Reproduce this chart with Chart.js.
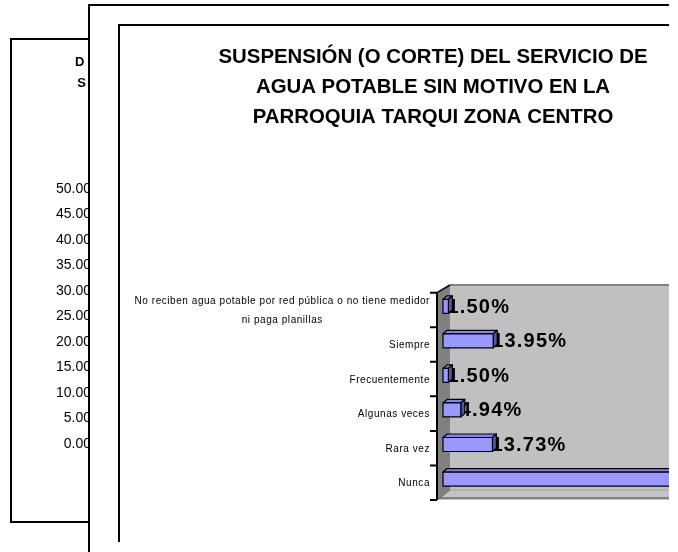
<!DOCTYPE html>
<html>
<head>
<meta charset="utf-8">
<script src="https://cdn.jsdelivr.net/npm/chart.js@4/dist/chart.umd.min.js"></script>
<style>
  html, body { margin: 0; padding: 0; background: #fff; }
  #wrap { position: relative; width: 669px; height: 552px; overflow: hidden; }
  .frame { position: absolute; background: #fff; box-sizing: content-box; }
  #back { left: 10px; top: 38px; width: 700px; height: 481px;
          border-left: 2px solid #000; border-top: 2px solid #000; border-bottom: 2px solid #000; }
  #mid { left: 88px; top: 4px; width: 800px; height: 600px;
         border-left: 2px solid #000; border-top: 2px solid #000; }
  #front { left: 118px; top: 24px; width: 800px; height: 516px;
           border-left: 2px solid #000; border-top: 2px solid #000; }
  #backChart { position: absolute; left: 0; top: 0; }
  #mainChart { position: absolute; left: 0; top: 0; }
</style>
</head>
<body>
<div id="wrap">
  <div class="frame" id="back"><canvas id="backChart" width="400" height="481"></canvas></div>
  <div class="frame" id="mid"></div>
  <div class="frame" id="front"></div>
  <canvas id="mainChart" width="803" height="552"></canvas>
</div>
<script>
// chart data
const categories = [
  ['No reciben agua potable por red pública o no tiene medidor', 'ni paga planillas'],
  'Siempre',
  'Frecuentemente',
  'Algunas veces',
  'Rara vez',
  'Nunca'
];
const percentages = [1.50, 13.95, 1.50, 4.94, 13.73, 64.38];
const titleLines = [
  'SUSPENSIÓN (O CORTE) DEL SERVICIO DE',
  'AGUA POTABLE SIN MOTIVO EN LA',
  'PARROQUIA TARQUI ZONA CENTRO'
];

// chart partly hidden behind the front one
const backTitleLines = ['D', ' S'];
const backAxisMin = 0;
const backAxisMax = 50;
const backAxisStep = 5;

const FONT = 'Arial, "Liberation Sans", sans-serif';

// 3D look: walls, floor, axis, category labels, boxed bars
const bar3d = {
  id: 'bar3d',
  beforeDatasetsDraw(chart) {
    const ctx = chart.ctx;
    const { left, right, top, bottom } = chart.chartArea;
    const yScale = chart.scales.y;
    const ax = left - 6;
    const bx = ax + 13;
    const wallTop = top - 7.7;
    const wallBottom = bottom - 10;

    ctx.save();
    // back wall
    ctx.fillStyle = '#c0c0c0';
    ctx.fillRect(bx, wallTop, right - bx, wallBottom - wallTop);
    ctx.strokeStyle = '#808080';
    ctx.lineWidth = 2;
    ctx.beginPath();
    ctx.moveTo(bx, wallTop);
    ctx.lineTo(right, wallTop);
    ctx.stroke();

    // floor
    ctx.fillStyle = '#c4c4c4';
    ctx.beginPath();
    ctx.moveTo(ax, bottom);
    ctx.lineTo(bx, wallBottom);
    ctx.lineTo(right, wallBottom);
    ctx.lineTo(right, bottom);
    ctx.closePath();
    ctx.fill();
    ctx.strokeStyle = '#a0a0a0';
    ctx.lineWidth = 1;
    ctx.beginPath();
    ctx.moveTo(bx, wallBottom);
    ctx.lineTo(right, wallBottom);
    ctx.stroke();
    ctx.strokeStyle = '#808080';
    ctx.lineWidth = 2;
    ctx.beginPath();
    ctx.moveTo(ax, bottom - 2);
    ctx.lineTo(right, bottom - 2);
    ctx.stroke();

    // side wall
    ctx.fillStyle = '#808080';
    ctx.beginPath();
    ctx.moveTo(ax, top);
    ctx.lineTo(bx, wallTop);
    ctx.lineTo(bx, wallBottom);
    ctx.lineTo(ax, bottom);
    ctx.closePath();
    ctx.fill();
    ctx.strokeStyle = '#6a6a6a';
    ctx.lineWidth = 1;
    ctx.beginPath();
    ctx.moveTo(ax, bottom);
    ctx.lineTo(bx, wallBottom);
    ctx.stroke();
    ctx.strokeStyle = '#000';
    ctx.lineWidth = 1.5;
    ctx.beginPath();
    ctx.moveTo(ax, top);
    ctx.lineTo(bx, wallTop);
    ctx.stroke();

    // axis line and tick marks
    ctx.strokeStyle = '#000';
    ctx.lineWidth = 2;
    ctx.beginPath();
    ctx.moveTo(ax, top);
    ctx.lineTo(ax, bottom);
    for (let i = 0; i <= categories.length; i++) {
      const y = yScale.getPixelForValue(i - 0.5);
      ctx.moveTo(ax - 7, y);
      ctx.lineTo(ax, y);
    }
    ctx.stroke();

    // category labels, right aligned block, lines centred in it
    ctx.font = '10px ' + FONT;
    ctx.letterSpacing = '0.55px';
    ctx.fillStyle = '#000';
    ctx.textAlign = 'center';
    ctx.textBaseline = 'middle';
    chart.data.labels.forEach((lab, i) => {
      const lines = Array.isArray(lab) ? lab : [lab];
      const blockW = Math.max(...lines.map(l => ctx.measureText(l).width));
      const cx = ax - 7 - blockW / 2;
      const yc = yScale.getPixelForValue(i) + 1;
      lines.forEach((l, k) => {
        ctx.fillText(l, cx, yc + (k - (lines.length - 1) / 2) * 19);
      });
    });
    ctx.restore();
  },
  beforeDatasetDraw() {
    return false;
  },
  afterDatasetsDraw(chart) {
    const ctx = chart.ctx;
    const meta = chart.getDatasetMeta(0);
    const ds = chart.data.datasets[0];
    const dx = 4, dy = -3.5, shift = -3.7;
    ctx.save();

    // value labels first, bars sit over them
    ctx.font = 'bold 20px ' + FONT;
    ctx.letterSpacing = '1.2px';
    ctx.fillStyle = '#000';
    ctx.textAlign = 'left';
    ctx.textBaseline = 'middle';
    meta.data.forEach((el, i) => {
      ctx.fillText(ds.data[i].toFixed(2) + '%', el.x - 1, el.y + shift + 1);
    });

    ctx.strokeStyle = '#000';
    ctx.lineWidth = 1.2;
    ctx.lineJoin = 'round';
    meta.data.forEach((el) => {
      const x0 = el.base, x1 = el.x;
      const h = el.height;
      const y0 = el.y - h / 2 + shift;
      // top face
      ctx.fillStyle = '#8585e8';
      ctx.beginPath();
      ctx.moveTo(x0, y0);
      ctx.lineTo(x0 + dx, y0 + dy);
      ctx.lineTo(x1 + dx, y0 + dy);
      ctx.lineTo(x1, y0);
      ctx.closePath();
      ctx.fill();
      ctx.stroke();
      // right face
      ctx.fillStyle = '#5555aa';
      ctx.beginPath();
      ctx.moveTo(x1, y0);
      ctx.lineTo(x1 + dx, y0 + dy);
      ctx.lineTo(x1 + dx, y0 + h + dy);
      ctx.lineTo(x1, y0 + h);
      ctx.closePath();
      ctx.fill();
      ctx.stroke();
      // front face
      ctx.fillStyle = ds.backgroundColor;
      ctx.fillRect(x0, y0, x1 - x0, h);
      ctx.strokeRect(x0, y0, x1 - x0, h);
    });
    ctx.restore();
  }
};

new Chart(document.getElementById('mainChart'), {
  type: 'bar',
  data: {
    labels: categories,
    datasets: [{
      data: percentages,
      backgroundColor: '#9999ff',
      barThickness: 14
    }]
  },
  options: {
    indexAxis: 'y',
    responsive: false,
    animation: false,
    layout: { padding: { left: 63, right: 0, top: 42, bottom: 52 } },
    plugins: {
      legend: { display: false },
      tooltip: { enabled: false },
      title: {
        display: true,
        text: titleLines,
        color: '#000',
        font: { family: FONT, size: 20.4, weight: 'bold', lineHeight: 30 / 20.4 },
        padding: { top: 0, bottom: 160.7 }
      }
    },
    scales: {
      x: { type: 'linear', min: 0, max: 100, display: false },
      y: {
        grid: { display: false, drawTicks: false },
        border: { display: false },
        ticks: { display: false },
        afterFit(scale) { scale.width = 380; }
      }
    }
  },
  plugins: [bar3d]
});

new Chart(document.getElementById('backChart'), {
  type: 'bar',
  data: { labels: [], datasets: [] },
  options: {
    responsive: false,
    animation: false,
    layout: { padding: { left: 0, right: 264.6, top: 0, bottom: 77 } },
    plugins: {
      legend: { display: false },
      tooltip: { enabled: false },
      title: {
        display: true,
        text: backTitleLines,
        color: '#000',
        font: { family: FONT, size: 13, weight: 'bold', lineHeight: 21 / 13 },
        padding: { top: 11.5, bottom: 95.5 }
      }
    },
    scales: {
      x: { display: false },
      y: {
        min: backAxisMin,
        max: backAxisMax,
        grid: { display: false, drawTicks: false },
        border: { display: false },
        ticks: {
          stepSize: backAxisStep,
          color: '#000',
          padding: 3,
          font: { family: FONT, size: 14 },
          callback: (v) => v.toFixed(2)
        },
        afterFit(scale) { scale.width = 82; }
      }
    }
  }
});
</script>
</body>
</html>
